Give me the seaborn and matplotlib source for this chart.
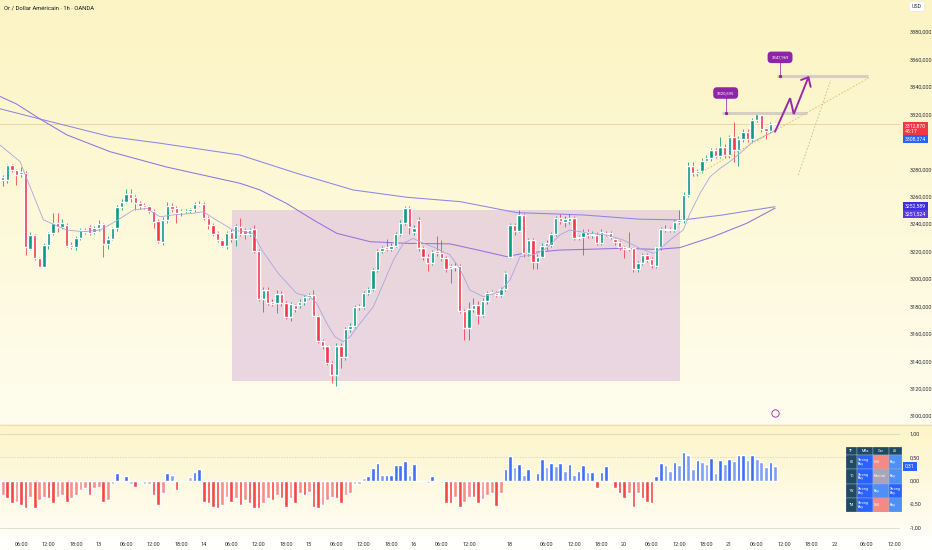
import numpy as np
import pandas as pd
import matplotlib
matplotlib.use("Agg")
import matplotlib.pyplot as plt
from matplotlib.patches import Rectangle
import seaborn as sns

# ---- data (bar index = hourly bar, 0 = day 12 00:00) ----
title = "Or / Dollar Américain · 1h · OANDA"
first_bar = 1

opens = [3279.4, 3272, 3272, 3283, 3279.4, 3276.5, 3277.4, 3222, 3232, 3215,
         3209, 3224.7, 3233.2, 3240.5, 3238, 3239.2, 3225, 3223.4, 3229.5, 3235.6,
         3238, 3234.4, 3236.8, 3240, 3225.4, 3229, 3236.8, 3252.6, 3256.3, 3261.9,
         3259.4, 3255.5, 3253.8, 3253.1, 3249.7, 3242.2, 3227, 3242.9, 3253.3, 3251.4,
         3248.9, 3249.2, 3249.7, 3250.9, 3254.6, 3254.6, 3244.1, 3239.2, 3233.2, 3228.3,
         3224, 3234.4, 3228.8, 3238, 3235.6, 3232.7, 3236, 3220.3, 3185.1, 3191.9,
         3183.3, 3182.6, 3189, 3182.6, 3172.4, 3180.9, 3180.9, 3183.1, 3186.5, 3188.2,
         3172.9, 3154.9, 3151, 3138.9, 3129.9, 3151, 3143.3, 3163.2, 3165.6, 3179.2,
         3179.7, 3189.4, 3192.6, 3206.4, 3220.3, 3223, 3221.5, 3224, 3232.5, 3241,
         3251.4, 3234, 3243, 3222.3, 3216.2, 3211.8, 3220.3, 3219.1, 3215, 3207.7,
         3208.5, 3209.4, 3176.8, 3163.9, 3177.8, 3180.9, 3173.6, 3184.1, 3189.9, 3190,
         3188, 3192.6, 3216.2, 3239.3, 3235.1, 3246.6, 3218.6, 3228.3, 3212.5, 3216.2,
         3224, 3224.7, 3232.7, 3244.6, 3241.7, 3242, 3244.1, 3229.6, 3230.3, 3234.2,
         3232, 3232, 3226.4, 3233.7, 3233.7, 3228.8, 3227.1, 3223, 3222.7, 3222.2,
         3206.9, 3211.8, 3217.4, 3214.2, 3209.4, 3223, 3235.6, 3236.6, 3235.3, 3241.7,
         3242.9, 3261.2, 3282.3, 3276.9, 3278.6, 3286.2, 3287.9, 3294, 3289.6, 3296.4,
         3290.3, 3303.2, 3294, 3301.8, 3307.3, 3301.8, 3315.9, 3319.5, 3309.8, 3308.1,
         3313.3]
highs = [3281, 3276, 3284, 3284, 3280, 3281.8, 3279, 3234, 3233, 3216,
         3226, 3234, 3247.8, 3247.8, 3244, 3241, 3227, 3231, 3237, 3237,
         3239.2, 3238.5, 3243, 3241, 3231, 3238, 3254, 3258, 3265.5, 3265.5,
         3261, 3257, 3255, 3254, 3251, 3244, 3245, 3256, 3255, 3253,
         3251, 3251, 3252, 3256, 3257, 3256, 3246, 3241, 3235, 3229,
         3235, 3236, 3240, 3244.1, 3237, 3237, 3239, 3222, 3194, 3194,
         3185, 3192, 3191, 3184, 3183, 3182, 3185, 3188, 3190, 3192,
         3174, 3156, 3152, 3140, 3153, 3153, 3165, 3168, 3181, 3182,
         3191, 3194, 3208, 3222, 3224, 3229, 3226, 3234, 3243, 3253,
         3253, 3239, 3245, 3224, 3218, 3221, 3231, 3228, 3217, 3211,
         3212, 3211, 3178, 3183, 3186, 3184, 3186, 3191, 3192, 3191,
         3194, 3206, 3241, 3241, 3250, 3248, 3230, 3230, 3218, 3226,
         3228, 3234, 3246, 3247, 3246, 3247, 3246, 3232, 3236, 3236,
         3235, 3234, 3236, 3235, 3235, 3230, 3228, 3224, 3234.4, 3223,
         3213, 3219, 3219, 3216, 3224, 3238, 3239, 3238, 3243, 3250,
         3263, 3285.5, 3285, 3280, 3288, 3290, 3295.5, 3295.5, 3303.7, 3298,
         3305, 3314.6, 3304, 3309, 3309, 3317, 3320.7, 3322, 3311, 3314,
         3314.5]
lows = [3270, 3268, 3270, 3278, 3268.4, 3274.5, 3217.4, 3221, 3214, 3208.5,
        3208.5, 3222, 3232, 3234.4, 3236, 3223, 3222, 3221, 3228, 3233,
        3232, 3233, 3235, 3216, 3222, 3228, 3235, 3250, 3255, 3256,
        3250, 3251, 3251, 3248, 3237, 3226, 3225, 3241, 3249, 3241,
        3246, 3248, 3248, 3249, 3253, 3243, 3236, 3231, 3227, 3223,
        3222, 3227, 3224, 3231, 3229, 3231, 3219, 3184, 3176, 3181,
        3180, 3175, 3180, 3171, 3169, 3176, 3179, 3181, 3185, 3172,
        3153, 3149, 3137, 3124, 3122, 3135, 3141, 3161, 3164, 3177,
        3178, 3188, 3191, 3205, 3219, 3220, 3220, 3223, 3231, 3239,
        3233, 3232, 3220, 3214, 3206, 3210, 3217, 3213, 3205, 3196.7,
        3206, 3175, 3155.4, 3155.4, 3176, 3167, 3172, 3182, 3189, 3187,
        3187, 3191, 3215, 3232, 3234, 3216, 3217, 3207, 3207, 3215,
        3221, 3223, 3231, 3240, 3238, 3240, 3228, 3228, 3217.4, 3230,
        3230, 3225, 3225, 3231, 3229, 3225, 3221, 3215, 3220, 3205,
        3205, 3210, 3212, 3208, 3208, 3221, 3234, 3234, 3234, 3240,
        3241, 3260, 3275, 3275, 3277, 3285, 3286, 3288, 3288, 3288,
        3288, 3285.5, 3282, 3300, 3300, 3300, 3314, 3307, 3302, 3306,
        3312]
closes = [3272, 3274.5, 3283, 3279.4, 3275.7, 3277.7, 3223.4, 3232, 3215, 3209,
          3224.7, 3233.2, 3240.5, 3237.5, 3240.5, 3224, 3223.4, 3229.5, 3235.6, 3234.4,
          3233.7, 3236.8, 3240, 3225.4, 3229, 3236.8, 3252.6, 3256.3, 3261.9, 3258.7,
          3255, 3253.1, 3252.6, 3249.7, 3241.7, 3227.8, 3242.9, 3253.1, 3250.9, 3247.7,
          3249.7, 3249.7, 3250.7, 3254.6, 3253.8, 3244.1, 3239.2, 3232.7, 3228.3, 3224.2,
          3233.7, 3228.8, 3238.5, 3232.7, 3233, 3235.6, 3220.3, 3185.1, 3191.9, 3182.1,
          3181.6, 3189, 3182.1, 3172.4, 3181.6, 3177.8, 3183.4, 3186.5, 3188.5, 3172.9,
          3154.9, 3151, 3138.9, 3129.9, 3151, 3143.3, 3163.2, 3165.6, 3179.2, 3180.2,
          3189.4, 3192.6, 3206.4, 3220.3, 3222.7, 3221.5, 3224, 3232.5, 3241, 3251.4,
          3237.6, 3237, 3222.3, 3216.2, 3211.8, 3219.8, 3219.1, 3215.4, 3207.2, 3209.4,
          3209.4, 3176.8, 3163.9, 3177.8, 3180.9, 3173.6, 3184.1, 3189.9, 3190.7, 3188,
          3192.6, 3204.5, 3239.3, 3235.1, 3246.6, 3218.6, 3228.3, 3212.5, 3216.2, 3224,
          3226, 3232.7, 3244.6, 3242.2, 3243.4, 3244.1, 3229.6, 3230.7, 3234.2, 3232,
          3233, 3226.4, 3234.2, 3232.5, 3230.8, 3227.1, 3223, 3221.5, 3221.5, 3206.9,
          3211.8, 3217.4, 3213.7, 3210.1, 3223, 3236.1, 3236.6, 3235.6, 3241.7, 3242.9,
          3261.2, 3282.3, 3276.9, 3278.6, 3286.2, 3287.9, 3294, 3289.6, 3296.4, 3290.3,
          3303.2, 3294, 3301.8, 3307.3, 3301.8, 3315.9, 3320.2, 3309.1, 3308.1, 3312.9,
          3312.87]

osc = [-0.38, -0.30, -0.38, -0.48, -0.45, -0.52, -0.59, -0.34, -0.59, -0.41,
       -0.34, -0.38, -0.48, -0.34, -0.31, -0.45, -0.38, -0.31, -0.20, -0.16,
       -0.31, -0.16, -0.13, -0.45, -0.41, -0.06, 0.16, 0.01, 0.10, -0.06,
       -0.13, -0.02, -0.06, -0.06, -0.31, -0.52, -0.27, 0.16, 0.12, -0.19,
       -0.01, -0.01, 0.07, 0.18, 0.26, -0.45, -0.48, -0.56, -0.59, -0.52,
       -0.34, -0.45, -0.38, -0.52, -0.41, -0.48, -0.59, -0.59, -0.48, -0.38,
       -0.41, -0.31, -0.38, -0.56, -0.38, -0.48, -0.27, -0.31, -0.24, -0.56,
       -0.59, -0.52, -0.41, -0.34, -0.38, -0.48, -0.31, -0.27, -0.06, -0.07,
       0.05, 0.09, 0.28, 0.37, 0.12, 0.12, 0.12, 0.33, 0.33, 0.43,
       0.12, 0.36, 0.0, 0.0, -0.04, 0.10, -0.01, -0.04, -0.47, -0.47,
       -0.34, -0.56, -0.45, -0.34, -0.34, -0.48, -0.40, -0.31, -0.27, -0.53,
       -0.27, 0.26, 0.53, 0.30, 0.36, 0.12, 0.26, 0.02, 0.16, 0.46,
       0.30, 0.37, 0.31, 0.37, 0.21, 0.36, 0.12, 0.21, 0.33, 0.19,
       0.19, -0.16, 0.18, 0.31, -0.02, -0.16, -0.27, -0.36, -0.27, -0.56,
       -0.27, -0.36, -0.45, -0.48, 0.10, 0.38, 0.33, 0.21, 0.41, 0.33,
       0.61, 0.55, 0.26, 0.44, 0.39, 0.36, 0.49, 0.17, 0.44, 0.36,
       0.46, 0.43, 0.55, 0.55, 0.44, 0.55, 0.46, 0.39, 0.30, 0.39,
       0.31]

# moving averages (bar index, value)
ma_short_idx = [1.4, 5.8, 6.5, 10.9, 16.0, 19.6, 23.3, 26.6, 30.6, 33.5, 36.4, 39.3,
                43.7, 45.9, 48.1, 52.4, 56.8, 58.7, 62.3, 66.3, 69.2, 70.7, 72.9, 74.7,
                76.5, 78.0, 80.2, 83.1, 85.3, 87.5, 89.7, 91.8, 94.0, 96.9, 99.9, 102.1,
                104.2, 107.2, 110.8, 113.0, 115.2, 118.1, 121.0, 123.9, 126.1, 130.5,
                134.2, 137.8, 141.4, 144.4, 145.8, 148.0, 150.9, 152.4, 154.6, 156.8,
                159.0, 161.1, 163.3, 166.2, 169.9, 171.0]
ma_short = [3297.6, 3285.5, 3279.4, 3243.0, 3235.6, 3234.4, 3235.6, 3241.7, 3250.2,
            3251.4, 3245.3, 3246.6, 3247.8, 3249.0, 3244.2, 3235.6, 3233.2, 3221.0,
            3204.0, 3189.4, 3187.0, 3182.2, 3167.6, 3157.8, 3154.2, 3157.8, 3167.6,
            3179.7, 3196.7, 3213.7, 3226.0, 3229.5, 3226.0, 3222.3, 3217.4, 3207.0,
            3191.9, 3187.0, 3190.7, 3199.2, 3216.2, 3217.4, 3222.3, 3232.0, 3235.6,
            3233.2, 3232.0, 3228.3, 3222.3, 3218.6, 3221.5, 3228.3, 3235.6, 3247.8,
            3262.4, 3274.5, 3280.6, 3285.5, 3291.5, 3300.0, 3306.1, 3308.374]
ma_mid_idx = [1.4, 5.0, 10.2, 16.0, 25.5, 37.9, 53.9, 58.3, 64.1, 70.0, 75.1, 82.4,
              90.4, 99.9, 106.0, 112.3, 115.9, 123.9, 137.8, 145.1, 150.2, 157.5,
              164.8, 171.0]
ma_mid = [3333.0, 3327.5, 3316.5, 3305.0, 3292.7, 3281.5, 3269.7, 3264.8, 3255.0,
          3242.9, 3233.2, 3227.1, 3225.9, 3225.5, 3221.0, 3216.2, 3218.6, 3221.0,
          3222.3, 3221.5, 3222.8, 3230.8, 3240.5, 3251.524]
ma_slow_idx = [1.4, 10.2, 25.5, 36.4, 53.9, 66.3, 78.7, 90.4, 102.1, 114.5, 129.0,
               141.4, 150.9, 159.6, 165.0, 171.0]
ma_slow = [3324.0, 3316.5, 3303.7, 3298.9, 3290.3, 3277.0, 3264.8, 3259.5, 3256.3,
           3248.3, 3246.6, 3243.5, 3243.0, 3246.6, 3249.5, 3252.589]

# drawings
zone_idx = [52.2, 150.2]
zone_price = [3125.5, 3250.2]
level_prices = [3320.695, 3347.969]
level_start = [159.3, 171.4]
level_end = [177.9, 191.3]
level_label_idx = [160.2, 172.1]
level_label_price = [3335.5, 3361.5]
arrow_idx = [171.0, 174.3, 175.1, 178.3]
arrow_price = [3307.3, 3331.7, 3320.2, 3347.0]
arrow_head_idx = [176.7, 178.3, 178.8]
arrow_head_price = [3345.0, 3347.0, 3340.0]
trend1_idx = [153.1, 191.8]
trend1_price = [3274.5, 3347.0]
trend2_idx = [176.1, 183.2]
trend2_price = [3275.7, 3345.0]

price_ticks = list(range(3100, 3381, 20))
hidden_price_ticks = [3300]  # covered by the price badges
osc_ticks = [1.0, 0.5, 0.0, -0.5, -1.0]
time_tick_idx = [6, 12, 18, 23, 29, 35, 41, 46, 52, 58, 64, 69, 75, 81, 87, 92, 98, 104,
                 113, 121, 127, 133, 138, 144, 150, 156, 161, 167, 173, 179, 184, 191, 197]
time_tick_labels = ["06:00", "12:00", "18:00", "13", "06:00", "12:00", "18:00", "14",
                    "06:00", "12:00", "18:00", "15", "06:00", "12:00", "18:00", "16",
                    "06:00", "12:00", "18", "06:00", "12:00", "18:00", "20", "06:00",
                    "12:00", "18:00", "21", "06:00", "12:00", "18:00", "22", "06:00", "12:00"]
countdown = "48:17"

table_header = ["TF", "MAs", "Osc", "All"]
table_tf = ["60", "1D", "1W", "1M"]
table_rows = [["Strong Buy", "Sell", "Buy"],
              ["Strong Buy", "Neutral", "Buy"],
              ["Strong Buy", "Buy", "Strong Buy"],
              ["Strong Buy", "Sell", "Buy"]]


def fr(v, d):
    return f"{v:.{d}f}".replace(".", ",")


sns.set_style("white")
plt.rcParams["font.family"] = ["Roboto", "DejaVu Sans"]

df = pd.DataFrame({"o": opens, "h": highs, "l": lows, "c": closes, "osc": osc})
df["idx"] = np.arange(first_bar, first_bar + len(df))
up = df["c"] >= df["o"]
candle_col = np.where(up, "#089981", "#f23645")

W, H = 932, 550
fig = plt.figure(figsize=(W / 100, H / 100), dpi=100)

# background gradients
bg = fig.add_axes([0, 0, 1, 1], zorder=-10)
grad = np.ones((H, 1, 3))
for r in range(H):
    if r < 424:
        t = r / 424
        c = np.array([252, 244, 195]) * (1 - t) + np.array([255, 253, 238]) * t
    elif r < 536:
        t = (r - 424) / 112
        c = np.array([253, 244, 198]) * (1 - t) + np.array([255, 254, 246]) * t
    else:
        c = np.array([255, 255, 252])
    grad[r, 0] = c / 255
bg.imshow(grad, extent=[0, 1, 0, 1], aspect="auto")
bg.axhline(1 - 424.5 / H, color="#e4dfcc", lw=0.8)
bg.set_axis_off()

xlim = (1.4, 198.35)

# ---------------- price pane ----------------
ax = fig.add_axes([0, 1 - 424 / H, 900 / W, 424 / H])
ax.set_facecolor("none")
ax.set_xlim(*xlim)
ax.set_ylim(3094.2, 3403.3)

ax.add_patch(Rectangle((zone_idx[0], zone_price[0]), zone_idx[1] - zone_idx[0],
                       zone_price[1] - zone_price[0], facecolor="#dcbedc", alpha=0.6,
                       edgecolor="none", zorder=1))
ax.axhline(closes[-1], color="#e6d7a2", lw=0.7, zorder=1)

ax.vlines(df["idx"], df["l"], df["h"], colors=candle_col, lw=0.55, zorder=3)
body_lo = np.minimum(df["o"], df["c"])
body_h = np.maximum((df["c"] - df["o"]).abs(), 0.5)
ax.bar(df["idx"], body_h, bottom=body_lo, width=0.74, color=candle_col, zorder=4)

sns.lineplot(x=ma_slow_idx, y=ma_slow, ax=ax, color="#8c86ea", lw=0.75, zorder=2)
sns.lineplot(x=ma_mid_idx, y=ma_mid, ax=ax, color="#9373e0", lw=0.75, zorder=2)
sns.lineplot(x=ma_short_idx, y=ma_short, ax=ax, color="#aaa5e2", lw=0.6, zorder=5)

# levels, labels, projection
for p, a, b, li, lp in zip(level_prices, level_start, level_end, level_label_idx,
                           level_label_price):
    ax.plot([a, b], [p, p], color="#d5cfc3", lw=2.2, solid_capstyle="butt", zorder=6)
    ax.plot([li, li], [p, lp], color="#8e24aa", lw=0.5, zorder=6)
    ax.scatter([li], [p], s=2, color="#8e24aa", zorder=7)
    ax.text(li, lp, fr(p, 3), fontsize=3.0, color="white", ha="center", va="center",
            zorder=8, bbox=dict(boxstyle="round,pad=0.9", fc="#8e24aa", ec="none"))

ax.plot(trend1_idx, trend1_price, color="#e8b46a", lw=0.6, ls=(0, (2, 2)), zorder=6)
ax.plot(trend2_idx, trend2_price, color="#c9b593", lw=0.6, ls=(0, (2, 2)), zorder=6)
ax.plot(arrow_idx, arrow_price, color="#9c27b0", lw=1.4, zorder=7,
        solid_joinstyle="miter")
ax.plot(arrow_head_idx, arrow_head_price, color="#9c27b0", lw=1.4, zorder=7)

ax.scatter([171], [3102.2], s=28, facecolor="#fdf9e8", edgecolor="#9c27b0", lw=0.6,
           zorder=7)

ax.text(0.004, 0.982, title, transform=ax.transAxes, fontsize=4.2, color="#131722",
        va="center", ha="left")

ax.set_yticks(price_ticks)
ax.set_yticklabels(["" if v in hidden_price_ticks else fr(v, 3) for v in price_ticks])
ax.yaxis.tick_right()
ax.tick_params(axis="y", length=0, pad=7, labelsize=4, labelcolor="#2a2e39")
ax.set_xticks([])
for s in ax.spines.values():
    s.set_visible(False)

yt = ax.get_yaxis_transform()
badge = dict(fontsize=3.7, color="white", ha="left", va="center", transform=yt,
             clip_on=False, zorder=10)
ax.text(1.0058, closes[-1] - 3.3, fr(closes[-1], 3) + "\n" + countdown,
        linespacing=1.05, bbox=dict(boxstyle="square,pad=0.35", fc="#f23645", ec="none"),
        **badge)
ax.text(1.0058, ma_short[-1] - 6.3, fr(ma_short[-1], 3),
        bbox=dict(boxstyle="square,pad=0.35", fc="#2962ff", ec="none"), **badge)
ax.text(1.0058, ma_slow[-1] + 0.5, fr(ma_slow[-1], 3),
        bbox=dict(boxstyle="square,pad=0.35", fc="#3c2fe0", ec="none"), **badge)
ax.text(1.0058, ma_mid[-1] - 4.1, fr(ma_mid[-1], 3),
        bbox=dict(boxstyle="square,pad=0.35", fc="#5a3bdc", ec="none"), **badge)
ax.text(1.013, 0.985, "USD", transform=ax.transAxes, fontsize=3.8, color="#2a2e39",
        ha="left", va="center", clip_on=False,
        bbox=dict(boxstyle="round,pad=0.5", fc="white", ec="#e0e3eb", lw=0.4))

# ---------------- oscillator pane ----------------
ox = fig.add_axes([0, 1 - 535 / H, 900 / W, 110 / H])
ox.set_facecolor("none")
ox.set_xlim(*xlim)
ox.set_ylim(-1.16, 1.19)

prev = np.concatenate([[osc[0]], osc[:-1]])
cols = []
for v, pv in zip(osc, prev):
    if abs(v) < 0.08:
        cols.append("#b9b2cc")
    elif v > 0:
        cols.append("#3f6ff4" if v >= pv else "#7e9ff2")
    else:
        cols.append("#f4473f" if v <= pv else "#f78d86")
ox.bar(df["idx"], df["osc"], width=0.8, color=cols, zorder=3)

ox.axhline(1.0, color="#d6d1c2", lw=0.5)
ox.axhline(0.5, color="#cfcabb", lw=0.5, ls=(0, (2, 2)))
ox.axhline(-1.0, color="#d6d1c2", lw=0.5)

ox.set_yticks(osc_ticks)
ox.set_yticklabels([fr(v, 2) for v in osc_ticks])
ox.yaxis.tick_right()
ox.tick_params(axis="y", length=0, pad=7, labelsize=4, labelcolor="#2a2e39")
ox.set_xticks(time_tick_idx)
ox.set_xticklabels(time_tick_labels)
ox.tick_params(axis="x", length=0, pad=5, labelsize=4, labelcolor="#2a2e39")
for s in ox.spines.values():
    s.set_visible(False)
ox.text(1.0058, osc[-1], fr(osc[-1], 2), transform=ox.get_yaxis_transform(),
        fontsize=3.8, color="white", ha="left", va="center", clip_on=False, zorder=10,
        bbox=dict(boxstyle="square,pad=0.4", fc="#2962ff", ec="none"))

# ---------------- rating table ----------------
tab = fig.add_axes([846 / W, 1 - 512 / H, 56 / W, 64.7 / H])
tab.set_xlim(0, 56)
tab.set_ylim(64.7, 0)
tab.set_axis_off()
col_edges = [0, 11, 27, 43, 56]
row_edges = [0, 7.7, 22, 36.3, 50.6, 64.7]
rating_col = {"Strong Buy": "#2962ff", "Buy": "#4f8ff7", "Sell": "#f28b86",
              "Neutral": "#aaa4b8"}
head_col = "#1f4a62"
for j, h in enumerate(table_header):
    tab.add_patch(Rectangle((col_edges[j], 0), col_edges[j + 1] - col_edges[j], 7.7,
                            fc=head_col, ec="#9fb6d0", lw=0.3))
    tab.text((col_edges[j] + col_edges[j + 1]) / 2, 3.85, h, fontsize=2.6,
             color="white", ha="center", va="center")
for i, (tf, row) in enumerate(zip(table_tf, table_rows)):
    y0, y1 = row_edges[i + 1], row_edges[i + 2]
    tab.add_patch(Rectangle((0, y0), 11, y1 - y0, fc=head_col, ec="#9fb6d0", lw=0.3))
    tab.text(5.5, (y0 + y1) / 2, tf, fontsize=2.6, color="white", ha="center",
             va="center")
    for j, r in enumerate(row):
        x0, x1 = col_edges[j + 1], col_edges[j + 2]
        tab.add_patch(Rectangle((x0, y0), x1 - x0, y1 - y0, fc=rating_col[r],
                                ec="#9fb6d0", lw=0.3))
        tab.text(x0 + 1.2, (y0 + y1) / 2, r.replace(" ", "\n"), fontsize=2.6,
                 color="white", ha="left", va="center", linespacing=0.95)

fig.savefig("out.png", dpi=100)
